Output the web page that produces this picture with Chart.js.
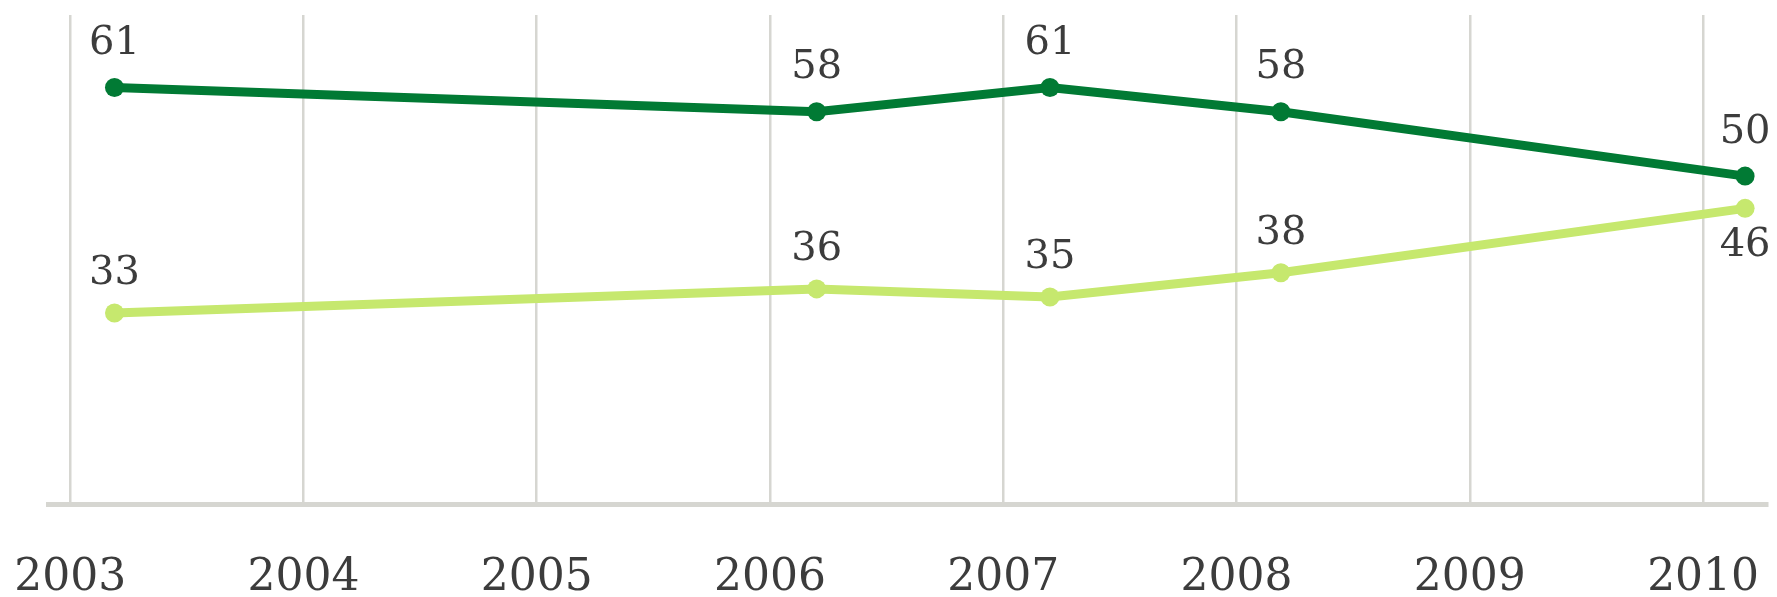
<!DOCTYPE html>
<html lang="en">
<head>
<meta charset="UTF-8" />
<title>Trend 2003-2010</title>
<style>
  body {
    margin: 0;
    background: #fff;
  }
  #chartContainer {
    width: 1777px;
    height: 597px;
  }
</style>
</head>
<body>

<div id="chartContainer">
  <canvas id="trendChart" width="1777" height="597"></canvas>
</div>

<script src="https://cdn.jsdelivr.net/npm/chart.js"></script>
<script>
  // Survey dates (fraction of year) and values
  const surveyDates = [2003.19, 2006.2, 2007.2, 2008.19, 2010.18];
  const darkSeries = [61, 58, 61, 58, 50];
  const lightSeries = [33, 36, 35, 38, 46];
  const yearTicks = [2003, 2004, 2005, 2006, 2007, 2008, 2009, 2010];

  const DARK = '#017a34';
  const LIGHT = '#c6e86e';
  const GRID = '#d6d6d1';
  const TEXT = '#3c3c3c';
  const SERIF = "'DejaVu Serif', 'Liberation Serif', serif";

  const toPoints = vals => vals.map((v, i) => ({ x: surveyDates[i], y: v }));

  // Simple value labels drawn above (or below) each point
  const valueLabels = {
    id: 'valueLabels',
    afterDatasetsDraw(chart) {
      const { ctx } = chart;
      ctx.save();
      ctx.font = '40px ' + SERIF;
      ctx.fillStyle = TEXT;
      ctx.textAlign = 'center';
      ctx.textBaseline = 'middle';
      chart.data.datasets.forEach((ds, di) => {
        const meta = chart.getDatasetMeta(di);
        meta.data.forEach((pt, i) => {
          const below = ds.labelBelow && ds.labelBelow[i];
          const dy = below ? 37 : -ds.labelGap;
          ctx.fillText(String(ds.data[i].y), pt.x, pt.y + dy);
        });
      });
      ctx.restore();
    }
  };

  const ctx = document.getElementById('trendChart').getContext('2d');

  new Chart(ctx, {
    type: 'line',
    data: {
      datasets: [
        {
          label: 'Dark',
          data: toPoints(darkSeries),
          borderColor: DARK,
          backgroundColor: DARK,
          borderWidth: 9,
          pointRadius: 9.5,
          pointBorderWidth: 0,
          labelGap: 44
        },
        {
          label: 'Light',
          data: toPoints(lightSeries),
          borderColor: LIGHT,
          backgroundColor: LIGHT,
          borderWidth: 9,
          pointRadius: 9.5,
          pointBorderWidth: 0,
          labelGap: 39,
          labelBelow: [false, false, false, false, true]
        }
      ]
    },
    options: {
      responsive: false,
      animation: false,
      layout: {
        padding: { left: 48, right: 7, top: 15, bottom: 0 }
      },
      plugins: {
        legend: { display: false },
        tooltip: { enabled: false }
      },
      scales: {
        x: {
          type: 'linear',
          min: 2002.905,
          max: 2010.276,
          afterBuildTicks: scale => {
            scale.ticks = yearTicks.map(v => ({ value: v }));
          },
          afterFit: scale => {
            // keep the plot area fixed: labels may overhang the edges
            scale.paddingLeft = 0;
            scale.paddingRight = 0;
            scale.height = 93;
          },
          grid: {
            color: GRID,
            lineWidth: 2.5,
            drawTicks: false
          },
          border: {
            display: true,
            color: GRID,
            width: 5
          },
          ticks: {
            padding: 53,
            color: TEXT,
            maxRotation: 0,
            autoSkip: false,
            font: { family: SERIF, size: 44, lineHeight: 1 },
            callback: v => String(v)
          }
        },
        y: {
          display: false,
          min: 9.3,
          max: 70
        }
      }
    },
    plugins: [valueLabels]
  });
</script>

</body>
</html>
